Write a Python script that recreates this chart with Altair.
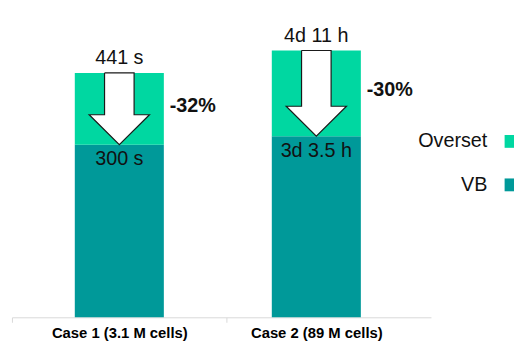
import altair as alt
import pandas as pd

# ---- data ----
categories = ["Case 1 (3.1 M cells)", "Case 2 (89 M cells)"]
series = ["Overset", "VB"]
vb_height = [64.7, 67.9]        # bar heights, relative units (Case 2 total = 100)
total_height = [91.6, 100.0]
top_labels = ["441 s", "4d 11 h"]
vb_labels = ["300 s", "3d 3.5 h"]
change_labels = ["-32%", "-30%"]
series_colors = ["#00D7A1", "#009999"]

# ---- style constants (x in category units, y in bar-height units) ----
FONT = "Liberation Sans"
BAR_HALF = 0.226
SHAFT_HALF = 0.075
HEAD_HALF = 0.153
HEAD_LEN = 11.2
X_MIN, X_MAX = -0.545, 1.582
DIVIDER = 0.543

bar_rows = []
for i, c in enumerate(categories):
    bar_rows.append({"case": c, "idx": i, "series": "VB", "lo": 0.0, "hi": vb_height[i]})
    bar_rows.append({"case": c, "idx": i, "series": "Overset", "lo": vb_height[i], "hi": total_height[i]})
bars_df = pd.DataFrame(bar_rows)

arrow_rows = []
for i, c in enumerate(categories):
    t, v = total_height[i], vb_height[i]
    neck = v + HEAD_LEN
    pts = [(i - SHAFT_HALF, t), (i + SHAFT_HALF, t), (i + SHAFT_HALF, neck),
           (i + HEAD_HALF, neck), (i, v), (i - HEAD_HALF, neck),
           (i - SHAFT_HALF, neck), (i - SHAFT_HALF, t)]
    for k, (ax, ay) in enumerate(pts):
        arrow_rows.append({"case": c, "k": k, "ax": ax, "ay": ay})
arrow_df = pd.DataFrame(arrow_rows)

lab_df = pd.DataFrame({
    "case": categories,
    "idx": list(range(len(categories))),
    "total": total_height,
    "vb": vb_height,
    "top": top_labels,
    "bottom": vb_labels,
    "change": change_labels,
})

xscale = alt.Scale(domain=[X_MIN, X_MAX], nice=False, zero=False)
yscale = alt.Scale(domain=[0, 100], nice=False, zero=True)
label_expr = ("datum.value == 0 ? '" + categories[0] + "' : datum.value == 1 ? '"
              + categories[1] + "' : ''")

xaxis = alt.Axis(values=[X_MIN, 0, DIVIDER, 1], labelExpr=label_expr,
                 ticks=True, tickSize=5, tickColor="#d9d9d9", tickWidth=1,
                 tickOpacity={"condition": {"test": "datum.value == 0 || datum.value == 1", "value": 0}, "value": 1},
                 grid=False, domainColor="#d9d9d9", domainWidth=1, labelFont=FONT,
                 labelFontSize=15, labelFontWeight="bold", labelColor="#000000",
                 labelPadding=3, labelFlush=False, labelOverlap=False, labelBound=False,
                 title=None)

legend = alt.Legend(orient="none", legendX=495, legendY=82, title=None,
                    symbolType="square", symbolSize=169, symbolStrokeWidth=0,
                    labelFont=FONT, labelFontSize=20, labelColor="#111111",
                    labelAlign="right", labelOffset={"expr": "-34"}, rowPadding=24, padding=0)

X = lambda f: alt.X(f, scale=xscale, axis=xaxis)
Y = lambda f: alt.Y(f, scale=yscale, axis=None)

bars = alt.Chart(bars_df).transform_calculate(
    xl=f"datum.idx - {BAR_HALF}", xr=f"datum.idx + {BAR_HALF}"
).mark_bar(strokeWidth=0).encode(
    x=X("xl:Q"),
    x2="xr:Q",
    y=Y("lo:Q"),
    y2="hi:Q",
    color=alt.Color("series:N", scale=alt.Scale(domain=series, range=series_colors), legend=legend),
)

arrows = alt.Chart(arrow_df).mark_line(
    fill="white", stroke="#1a1a1a", strokeWidth=1.2, strokeJoin="miter", interpolate="linear"
).encode(
    x=X("ax:Q"),
    y=Y("ay:Q"),
    order="k:Q",
    detail="case:N",
)

top_text = alt.Chart(lab_df).mark_text(
    font=FONT, fontSize=20, color="#111111", baseline="middle", dy=-15
).encode(
    x=X("idx:Q"),
    y=Y("total:Q"),
    text="top:N",
)

bottom_text = alt.Chart(lab_df).mark_text(
    font=FONT, fontSize=20, color="#111111", baseline="middle", dy=15
).encode(
    x=X("idx:Q"),
    y=Y("vb:Q"),
    text="bottom:N",
)

change_text = alt.Chart(lab_df).transform_calculate(
    xr=f"datum.idx + {BAR_HALF}", ym="(datum.total + datum.vb) / 2"
).mark_text(
    font=FONT, fontSize=20, fontWeight="bold", color="#111111", align="left",
    baseline="middle", dx=6, dy=-3
).encode(
    x=X("xr:Q"),
    y=Y("ym:Q"),
    text="change:N",
)

chart = alt.layer(bars, arrows, top_text, bottom_text, change_text).properties(
    width=424, height=270,
    autosize=alt.AutoSizeParams(type="none"),
    padding={"left": 4, "top": 41, "right": 84, "bottom": 22},
).configure_view(stroke=None)

chart.save("out.html", embed_options={"renderer": "svg", "actions": False})
